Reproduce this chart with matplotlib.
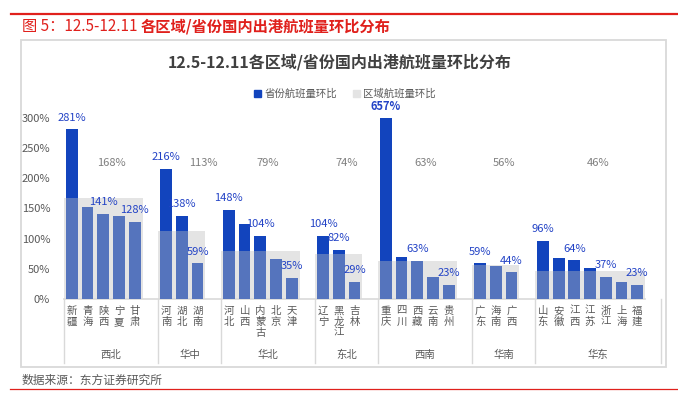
import numpy as np
import matplotlib.pyplot as plt
from matplotlib.patches import Rectangle, Patch
from matplotlib.lines import Line2D

plt.rcParams['font.family'] = ['Noto Sans CJK SC', 'DejaVu Sans']

# data (percent)
groups = ['西北', '华中', '华北', '东北', '西南', '华南', '华东']
provinces = [
    ['新疆', '青海', '陕西', '宁夏', '甘肃'],
    ['河南', '湖北', '湖南'],
    ['河北', '山西', '内蒙古', '北京', '天津'],
    ['辽宁', '黑龙江', '吉林'],
    ['重庆', '四川', '西藏', '云南', '贵州'],
    ['广东', '海南', '广西'],
    ['山东', '安徽', '江西', '江苏', '浙江', '上海', '福建'],
]
prov_values = [
    [281, 152, 141, 137, 128],
    [216, 138, 59],
    [148, 124, 104, 66, 35],
    [104, 82, 29],
    [657, 69, 63, 36, 23],
    [59, 55, 44],
    [96, 68, 64, 51, 37, 29, 23],
]
show_label = [
    [1, 0, 1, 0, 1],
    [1, 1, 1],
    [1, 0, 1, 0, 1],
    [1, 1, 1],
    [1, 0, 1, 0, 1],
    [1, 0, 1],
    [1, 0, 1, 0, 1, 0, 1],
]
region_values = [168, 113, 79, 74, 63, 56, 46]

DARK = '#1244BD'
LIGHT = '#5574BD'
GRAY = '#E4E4E4'
TXT = '#595959'
BLUE_TXT = '#2343C6'
RED = '#E0201C'

fig = plt.figure(figsize=(6.78, 3.98), dpi=100)
W, H = 678, 398

# frame and red rules
fig.add_artist(Rectangle((21 / W, 1 - 367 / H), 645 / W, 327 / H, transform=fig.transFigure,
                         fill=False, edgecolor='#D9D9D9', lw=1.3))
fig.add_artist(Line2D([11 / W, 1], [1 - 14 / H] * 2, color=RED, lw=1.6))
fig.add_artist(Line2D([10 / W, 1], [1 - 389 / H] * 2, color=RED, lw=0.9))

t1 = fig.text(22 / W, 1 - 31 / H, '图 5：12.5-12.11 ', color=RED, fontsize=11, va='baseline')
r = fig.canvas.get_renderer()
bb = t1.get_window_extent(renderer=r)
fig.text(bb.x1 / fig.bbox.width, 1 - 31 / H, '各区域/省份国内出港航班量环比分布', color=RED,
         fontsize=11, fontweight='bold', va='baseline')

fig.text(340 / W, 1 - 62 / H, '12.5-12.11各区域/省份国内出港航班量环比分布', ha='center', va='center',
         fontsize=11.5, fontweight='bold', color='#404040')
fig.text(22 / W, 1 - 380 / H, '数据来源：东方证券研究所', fontsize=8.5, color=TXT, va='center')

ax = fig.add_axes([64 / W, 1 - 299 / H, 581 / W, 181 / H])

# build slot positions
xs, names, vals, regs, flags, centers, seps = [], [], [], [], [], [], [-0.5]
pos = 0
for g, ps, vs, fl, rv in zip(groups, provinces, prov_values, show_label, region_values):
    idx = list(range(pos, pos + len(ps)))
    xs += idx
    names += ps
    vals += vs
    flags += fl
    regs += [rv] * len(ps)
    centers.append((pos - 0.5 + pos + len(ps) + 0.5) / 2)
    pos += len(ps) + 1
    seps.append(pos - 0.5)
xs = np.array(xs)
vals = np.array(vals, dtype=float)
regs = np.array(regs, dtype=float)

ax.bar(xs, regs, width=1.0, color=GRAY, zorder=1)
low = np.minimum(vals, regs)
ax.bar(xs, vals, width=0.75, color=DARK, zorder=2)
ax.bar(xs, low, width=0.75, color=LIGHT, zorder=3)

ax.set_xlim(-0.5, pos - 1.5)
ax.set_ylim(0, 300)
ax.set_yticks(np.arange(0, 301, 50))
ax.set_yticklabels([f'{v}%' for v in range(0, 301, 50)], fontsize=8, color=TXT)
ax.tick_params(axis='y', length=0, pad=10)
ax.set_xticks(xs)
ax.set_xticklabels(['\n'.join(n) for n in names], fontsize=7.5, color=TXT, linespacing=1.1)
ax.tick_params(axis='x', length=0, pad=5)
for s in ['left', 'right', 'top']:
    ax.spines[s].set_visible(False)
ax.spines['bottom'].set_color('#D9D9D9')
ax.spines['bottom'].set_linewidth(1.2)

# data labels
for x, v, f in zip(xs, vals, flags):
    if f:
        ax.annotate(f'{int(v)}%', (x, min(v, 300)), xytext=(0, 8.5), textcoords='offset points',
                    ha='center', va='center', fontsize=8, color=BLUE_TXT,
                    fontweight='bold' if v > 300 else 'normal', annotation_clip=False)

label_shift = {'华中': 0.9}
for g, c, rv in zip(groups, centers, region_values):
    ax.text(c + label_shift.get(g, 0), 226, f'{rv}%', ha='center', va='center', fontsize=8,
            color='#7F7F7F')

# group separators and labels below the axis
tr = ax.get_xaxis_transform()
for s in seps:
    ax.plot([s, s], [0, -64 / 181], transform=tr, color='#D9D9D9', lw=1.0, clip_on=False)
for g, c in zip(groups, centers):
    ax.text(c, -56 / 181, g, transform=tr, ha='center', va='center', fontsize=7.5, color=TXT)

handles = [Patch(color=DARK), Patch(color=GRAY)]
fig.legend(handles, ['省份航班量环比', '区域航班量环比'], loc='center', bbox_to_anchor=(345 / W, 1 - 94 / H),
           ncol=2, frameon=False, fontsize=7.5, handlelength=0.7, handleheight=0.7,
           handletextpad=0.3, columnspacing=1.5, labelcolor=TXT)

fig.savefig('out.png', dpi=100)
